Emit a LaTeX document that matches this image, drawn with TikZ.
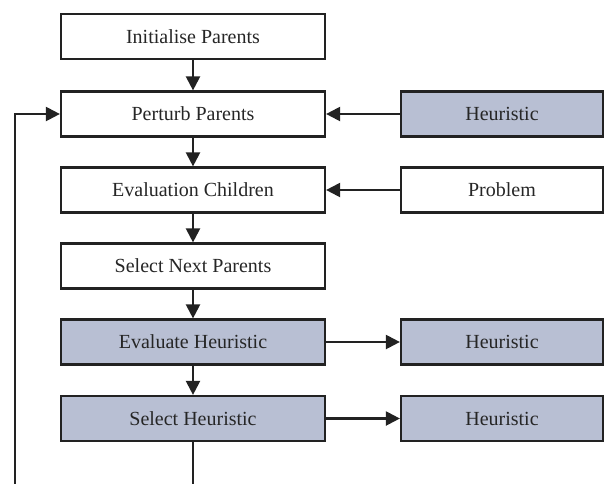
\documentclass[tikz,border=0pt]{standalone}
\usepackage{fontspec}
\setmainfont{Liberation Serif}
\usetikzlibrary{arrows.meta}
\definecolor{heurfill}{HTML}{B8BFD3}
\definecolor{boxline}{HTML}{222222}
\definecolor{boxtext}{HTML}{262626}

\begin{document}
\begin{tikzpicture}[x = 1pt, y = -1pt, line width = 2.2pt,
                        step box/.style = {rectangle, draw = boxline, fill = white, text = boxtext,
                                           minimum width = 264pt, minimum height = 45pt,
                                           font = \fontsize{20pt}{23pt}\selectfont},
                        heur box/.style = {step box, fill = heurfill},
                        side box/.style = {step box, minimum width = 202pt},
                        side heur/.style = {side box, fill = heurfill},
                        flow/.style = {draw = boxline, -{Triangle[length = 14pt, width = 14pt]}}]
      \useasboundingbox (0, 0) rectangle (605, 483);
      \node [step box] (init) at (193, 36.5){Initialise Parents};
      \node [step box] (perturb) at (193, 114){Perturb Parents};
      \node [step box] (evalc) at (193, 190){Evaluation Children};
      \node [step box] (selnext) at (193, 266){Select Next Parents};
      \node [heur box] (evalh) at (193, 342){Evaluate Heuristic};
      \node [heur box] (selh) at (193, 418.5){Select Heuristic};
      \node [side heur] (h1) at (502, 114){Heuristic};
      \node [side box] (prob) at (502, 190){Problem};
      \node [side heur] (h2) at (502, 342){Heuristic};
      \node [side heur] (h3) at (502, 418.5){Heuristic};
      \coordinate (down) at (193, 490);
      \coordinate (back) at (15, 490);
      \draw [flow] (init) -- (perturb);
      \draw [flow] (perturb) -- (evalc);
      \draw [flow] (evalc) -- (selnext);
      \draw [flow] (selnext) -- (evalh);
      \draw [flow] (evalh) -- (selh);
      \draw [flow] (h1) -- (perturb);
      \draw [flow] (prob) -- (evalc);
      \draw [flow] (evalh) -- (h2);
      \draw [flow] (selh) -- (h3);
      \draw [draw = boxline] (selh) -- (down);
      \draw [flow] (back) |- (perturb);
    \end{tikzpicture}
\end{document}
